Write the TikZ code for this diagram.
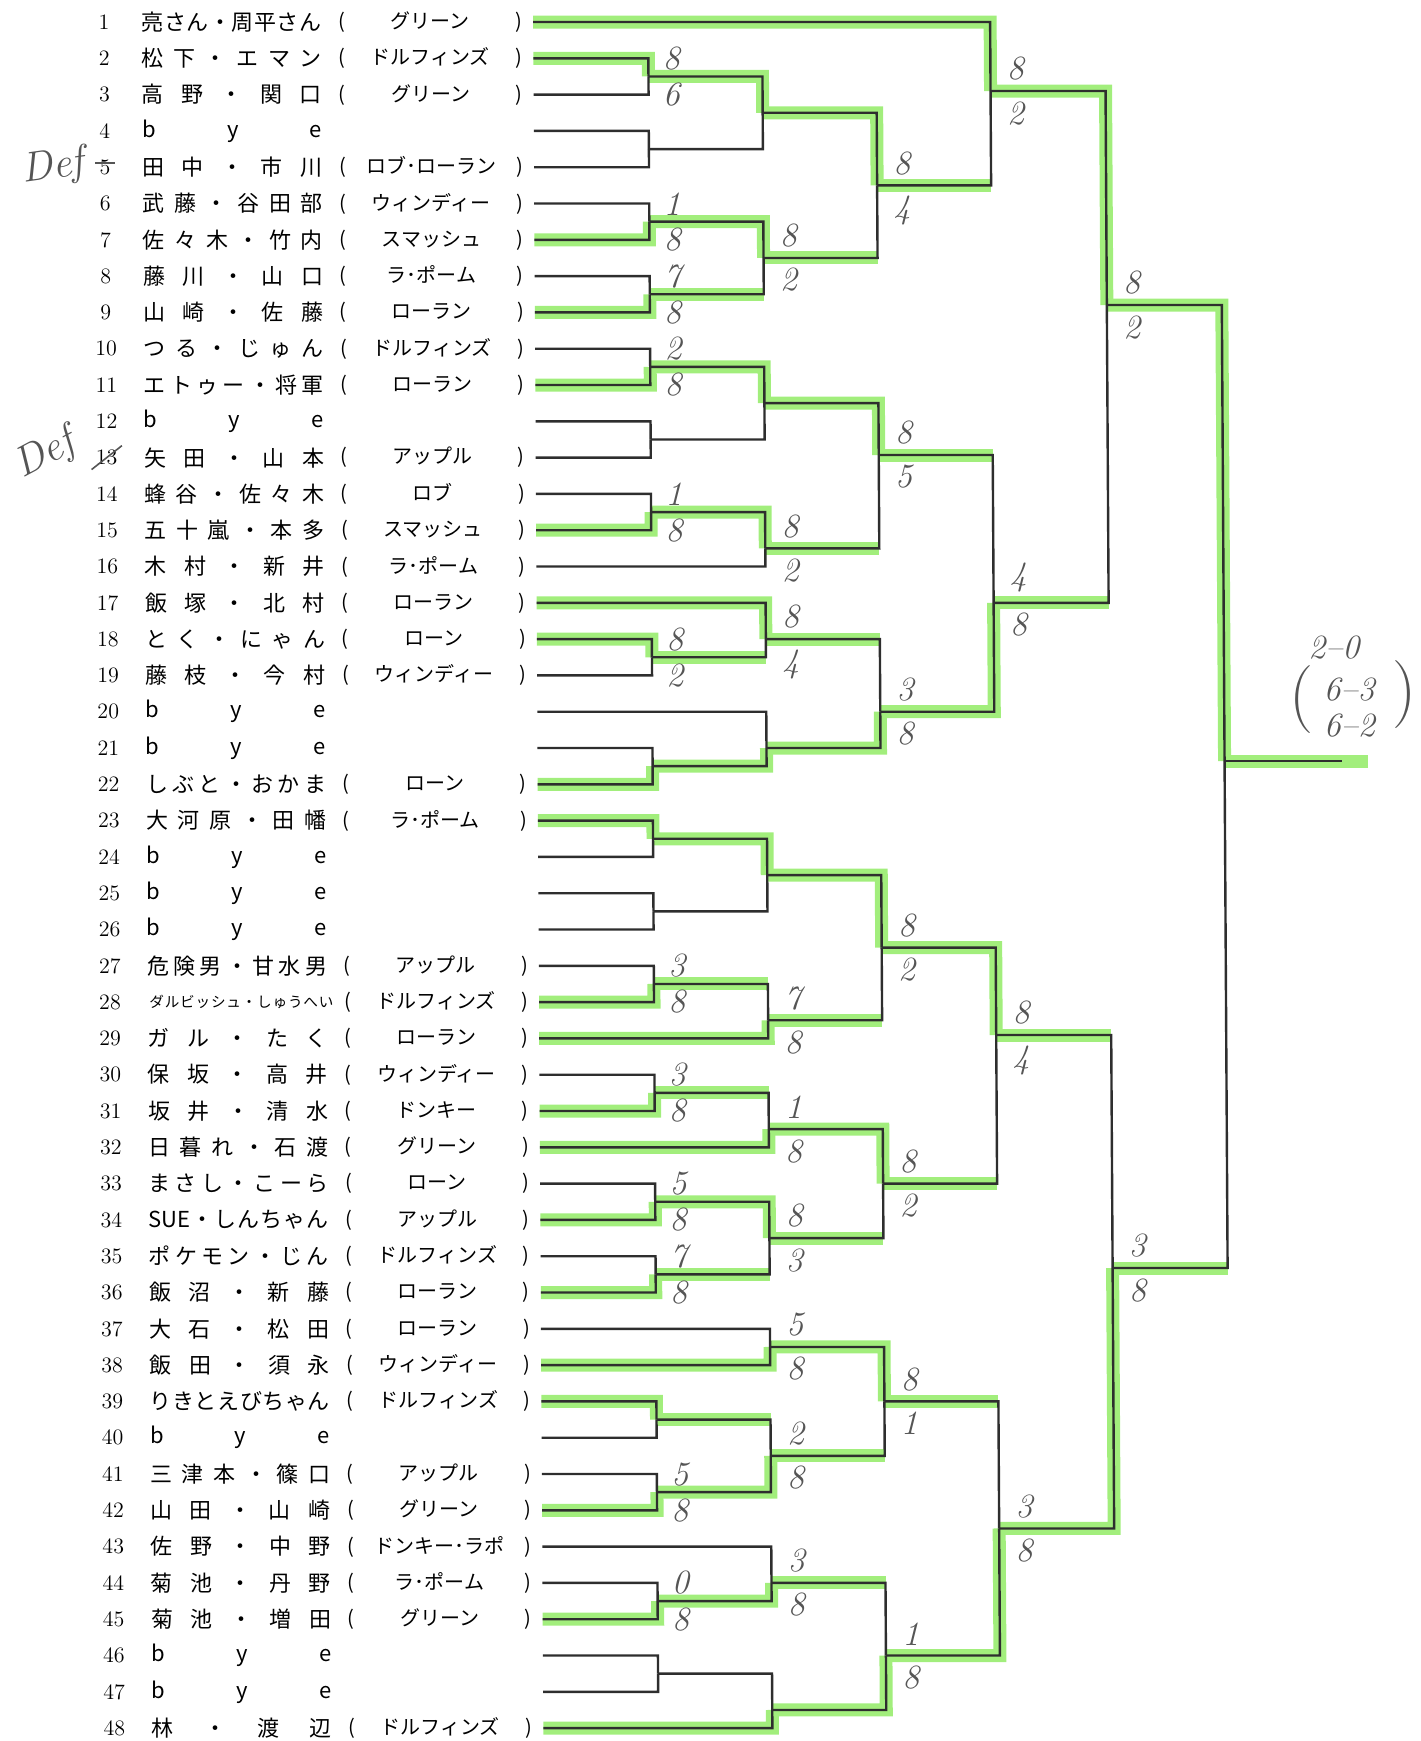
\documentclass[tikz,border=0pt]{standalone}
\usepackage{fontspec}
\newfontfamily\jpfont{Noto Sans CJK JP}
\definecolor{hlgreen}{HTML}{A2EE7C}
\definecolor{pencil}{HTML}{555555}
\definecolor{inkline}{HTML}{2E2E2E}

% spread the characters of a pair name over a fixed width
\makeatletter
\def\spread@end{\relax}
\def\spread@a#1{\def\spread@tmp{#1}\ifx\spread@tmp\spread@end\else#1\expandafter\spread@b\fi}
\def\spread@b#1{\def\spread@tmp{#1}\ifx\spread@tmp\spread@end\else\hfill#1\expandafter\spread@b\fi}
\newcommand\spreadname[2][90pt]{\hbox to #1{\spread@a#2\relax}}
\makeatother

\newcommand\rowy[1]{36.3*(#1)-14.3}
\newcommand\entry[3]{%
  \node[rownum] (num#1) at (104,{\rowy{#1}}) {#1};
  \node[pairname] (name#1) at (141,{\rowy{#1}}) {\spreadname{#2}};
  \node[teamname] (team#1) at (430,{\rowy{#1}}) {\hbox to 92pt{(\hfil#3\hfil)}};
  \coordinate (s#1) at (533,{\rowy{#1}});}
\newcommand\byeentry[1]{%
  \node[rownum] (num#1) at (104,{\rowy{#1}}) {#1};
  \node[pairname] (name#1) at (141,{\rowy{#1}}) {\spreadname{bye}};
  \coordinate (s#1) at (533,{\rowy{#1}});}

\begin{document}
\begin{tikzpicture}[x=0.5pt, y=-0.5pt,
    rownum/.style={inner sep=0pt, font=\fontsize{11}{13}\selectfont},
    pairname/.style={anchor=west, inner sep=0pt, font=\jpfont\fontsize{11}{13}\selectfont},
    teamname/.style={inner sep=0pt, font=\jpfont\fontsize{10}{12}\selectfont},
    bracket/.style={draw=inkline, line width=1.2pt},
    hl/.style={draw=hlgreen, line width=6.5pt},
    score/.style={inner sep=0pt, text=pencil, font=\fontsize{17}{17}\selectfont\itshape},
    defnote/.style={inner sep=0pt, text=pencil, font=\fontsize{21}{21}\selectfont\itshape},
    strike/.style={draw=pencil, line width=0.8pt}]

\useasboundingbox (0,0) rectangle (1420,1741);

\begin{scope}[xslant=-0.006]
% entries
\entry{1}{亮さん・周平さん}{グリーン}
\entry{2}{松下・エマン}{ドルフィンズ}
\entry{3}{高野・関口}{グリーン}
\byeentry{4}
\entry{5}{田中・市川}{ロブ･ローラン}
\entry{6}{武藤・谷田部}{ウィンディー}
\entry{7}{佐々木・竹内}{スマッシュ}
\entry{8}{藤川・山口}{ラ･ポーム}
\entry{9}{山崎・佐藤}{ローラン}
\entry{10}{つる・じゅん}{ドルフィンズ}
\entry{11}{エトゥー・将軍}{ローラン}
\byeentry{12}
\entry{13}{矢田・山本}{アップル}
\entry{14}{蜂谷・佐々木}{ロブ}
\entry{15}{五十嵐・本多}{スマッシュ}
\entry{16}{木村・新井}{ラ･ポーム}
\entry{17}{飯塚・北村}{ローラン}
\entry{18}{とく・にゃん}{ローン}
\entry{19}{藤枝・今村}{ウィンディー}
\byeentry{20}
\byeentry{21}
\entry{22}{しぶと・おかま}{ローン}
\entry{23}{大河原・田幡}{ラ･ポーム}
\byeentry{24}
\byeentry{25}
\byeentry{26}
\entry{27}{危険男・甘水男}{アップル}
\node[rownum] (num28) at (104,{\rowy{28}}) {28};
\node[pairname] (name28) at (143,{\rowy{28}}) {\fontsize{7.3}{9}\selectfont\spreadname[92pt]{ダルビッシュ・しゅうへい}};
\node[teamname] (team28) at (430,{\rowy{28}}) {\hbox to 92pt{(\hfil ドルフィンズ\hfil)}};
\coordinate (s28) at (533,{\rowy{28}});
\entry{29}{ガル・たく}{ローラン}
\entry{30}{保坂・高井}{ウィンディー}
\entry{31}{坂井・清水}{ドンキー}
\entry{32}{日暮れ・石渡}{グリーン}
\entry{33}{まさし・こーら}{ローン}
\entry{34}{{SUE}・しんちゃん}{アップル}
\entry{35}{ポケモン・じん}{ドルフィンズ}
\entry{36}{飯沼・新藤}{ローラン}
\entry{37}{大石・松田}{ローラン}
\entry{38}{飯田・須永}{ウィンディー}
\entry{39}{りきとえびちゃん}{ドルフィンズ}
\byeentry{40}
\entry{41}{三津本・篠口}{アップル}
\entry{42}{山田・山崎}{グリーン}
\entry{43}{佐野・中野}{ドンキー･ラポ}
\entry{44}{菊池・丹野}{ラ･ポーム}
\entry{45}{菊池・増田}{グリーン}
\byeentry{46}
\byeentry{47}
\entry{48}{林・渡辺}{ドルフィンズ}

% match points
\coordinate (A1) at (648,{\rowy{2.5}});
\coordinate (A2) at (648,{\rowy{4.5}});
\coordinate (B1) at (762,{\rowy{3.5}});
\coordinate (A3) at (648,{\rowy{6.5}});
\coordinate (A4) at (648,{\rowy{8.5}});
\coordinate (B2) at (762,{\rowy{7.5}});
\coordinate (C1) at (876,{\rowy{5.5}});
\coordinate (D1) at (990,91);
\coordinate (A5) at (648,{\rowy{10.5}});
\coordinate (A6) at (648,{\rowy{12.5}});
\coordinate (B3) at (762,{\rowy{11.5}});
\coordinate (A7) at (648,{\rowy{14.5}});
\coordinate (B4) at (762,{\rowy{15.5}});
\coordinate (C2) at (876,455);
\coordinate (A8) at (648,{\rowy{18.5}});
\coordinate (B5) at (762,{\rowy{18}});
\coordinate (A9) at (648,{\rowy{21.5}});
\coordinate (B6) at (762,{\rowy{21}});
\coordinate (C3) at (876,{\rowy{20}});
\coordinate (D2) at (990,{\rowy{17}});
\coordinate (E1) at (1105,305);
\coordinate (A10) at (648,{\rowy{23.5}});
\coordinate (A11) at (648,{\rowy{25.5}});
\coordinate (B7) at (762,{\rowy{24.5}});
\coordinate (A12) at (648,{\rowy{27.5}});
\coordinate (B8) at (762,{\rowy{28.5}});
\coordinate (C4) at (876,{\rowy{26.5}});
\coordinate (A13) at (648,{\rowy{30.5}});
\coordinate (B9) at (762,{\rowy{31.5}});
\coordinate (A14) at (648,{\rowy{33.5}});
\coordinate (A15) at (648,{\rowy{35.5}});
\coordinate (B10) at (762,{\rowy{34.5}});
\coordinate (C5) at (876,{\rowy{33}});
\coordinate (D3) at (990,1035);
\coordinate (B11) at (762,{\rowy{37.5}});
\coordinate (A16) at (648,{\rowy{39.5}});
\coordinate (A17) at (648,{\rowy{41.5}});
\coordinate (B12) at (762,{\rowy{40.5}});
\coordinate (C6) at (876,{\rowy{39}});
\coordinate (A18) at (648,{\rowy{44.5}});
\coordinate (B13) at (762,{\rowy{44}});
\coordinate (A19) at (648,{\rowy{46.5}});
\coordinate (B14) at (762,{\rowy{47.5}});
\coordinate (C7) at (876,{\rowy{46}});
\coordinate (D4) at (990,{\rowy{42.5}});
\coordinate (E2) at (1105,1268);
\coordinate (F) at (1220,761);
\coordinate (fin) at (1337,761);
\coordinate (finhl) at (1363,761);

% highlighter: winners
\foreach \c/\p in {s1/D1,s2/A1,A1/B1,B1/C1,s7/A3,s9/A4,A3/B2,s11/A5,A5/B3,B3/C2,
    s15/A7,A7/B4,s17/B5,s18/A8,s22/A9,A9/B6,B6/C3,C3/D2,D1/E1,E1/F,
    s23/A10,A10/B7,B7/C4,s28/A12,s29/B8,s31/A13,s32/B9,B9/C5,s34/A14,A14/B10,
    s36/A15,C4/D3,s38/B11,B11/C6,s39/A16,s42/A17,A17/B12,s45/A18,A18/B13,
    s48/B14,B14/C7,C7/D4,D4/E2}
  \draw[hl] (\c) -| (\p);
% highlighter: beaten after a win
\foreach \c/\p in {C1/D1,B2/C1,A4/B2,B4/C2,C2/D2,A8/B5,B5/C3,D2/E1,A12/B8,B8/C4,
    A13/B9,A15/B10,B10/C5,C5/D3,D3/E2,A16/B12,B12/C6,C6/D4,B13/C7,E2/F}
  \draw[hl] (\c) -- (\c -| \p);
\draw[hl] (F) -- (finhl);

% bracket
\foreach \c/\p in {s1/D1,s2/A1,s3/A1,s4/A2,s5/A2,A1/B1,A2/B1,s6/A3,s7/A3,s8/A4,s9/A4,
    A3/B2,A4/B2,B1/C1,B2/C1,C1/D1,
    s10/A5,s11/A5,s12/A6,s13/A6,A5/B3,A6/B3,s14/A7,s15/A7,A7/B4,s16/B4,B3/C2,B4/C2,
    s17/B5,s18/A8,s19/A8,A8/B5,s20/B6,s21/A9,s22/A9,A9/B6,B5/C3,B6/C3,C2/D2,C3/D2,
    D1/E1,D2/E1,
    s23/A10,s24/A10,s25/A11,s26/A11,A10/B7,A11/B7,s27/A12,s28/A12,A12/B8,s29/B8,
    B7/C4,B8/C4,
    s30/A13,s31/A13,A13/B9,s32/B9,s33/A14,s34/A14,s35/A15,s36/A15,A14/B10,A15/B10,
    B9/C5,B10/C5,C4/D3,C5/D3,
    s37/B11,s38/B11,s39/A16,s40/A16,s41/A17,s42/A17,A16/B12,A17/B12,B11/C6,B12/C6,
    s43/B13,s44/A18,s45/A18,A18/B13,s46/A19,s47/A19,A19/B14,s48/B14,B13/C7,B14/C7,
    C6/D4,C7/D4,D3/E2,D4/E2,E1/F,E2/F}
  \draw[bracket] (\c) -| (\p);
\draw[bracket] (F) -- (fin);

% pencilled scores, first round
\foreach \j/\u/\l in {A1/8/6,A3/1/8,A4/7/8,A5/2/8,A7/1/8,A8/8/2,A12/3/8,A13/3/8,
    A14/5/8,A15/7/8,A17/5/8,A18/0/8}{
  \node[score, anchor=south west] (\j-u) at ([shift={(7pt,3pt)}]\j) {\u};
  \node[score, anchor=north west] (\j-l) at ([shift={(7pt,-3pt)}]\j) {\l};
}
% pencilled scores, later rounds
\foreach \j/\u/\l in {D1/8/2,C1/8/4,B2/8/2,E1/8/2,C2/8/5,B4/8/2,B5/8/4,D2/4/8,C3/3/8,
    C4/8/2,B8/7/8,B9/1/8,D3/8/4,C5/8/2,B10/8/3,
    B11/5/8,B12/2/8,C6/8/1,B13/3/8,C7/1/8,D4/3/8,E2/3/8}{
  \node[score, anchor=south west] (\j-u) at ([shift={(8pt,5pt)}]\j) {\u};
  \node[score, anchor=north west] (\j-l) at ([shift={(8pt,-5pt)}]\j) {\l};
}

% final result
\node[score] (res1) at (1330,648) {2--0};
\node[score] (res2) at (1345,690) {6--3};
\node[score] (res3) at (1345,726) {6--2};
\node[score, font=\fontsize{34}{34}\selectfont] (lpar) at (1297,700) {(};
\node[score, font=\fontsize{34}{34}\selectfont] (rpar) at (1400,695) {)};

% defaults
\node[defnote, rotate=8] (def5) at (52,168) {Def};
\node[defnote, rotate=28] (def13) at (42,455) {Def};
\draw[strike] ([xshift=-2pt,yshift=2pt]num5.west) -- ([xshift=2pt,yshift=2pt]num5.east);
\draw[strike] ([xshift=-2pt,yshift=-2pt]num13.south west) -- ([xshift=2pt,yshift=2pt]num13.north east);
\end{scope}
\end{tikzpicture}
\end{document}
